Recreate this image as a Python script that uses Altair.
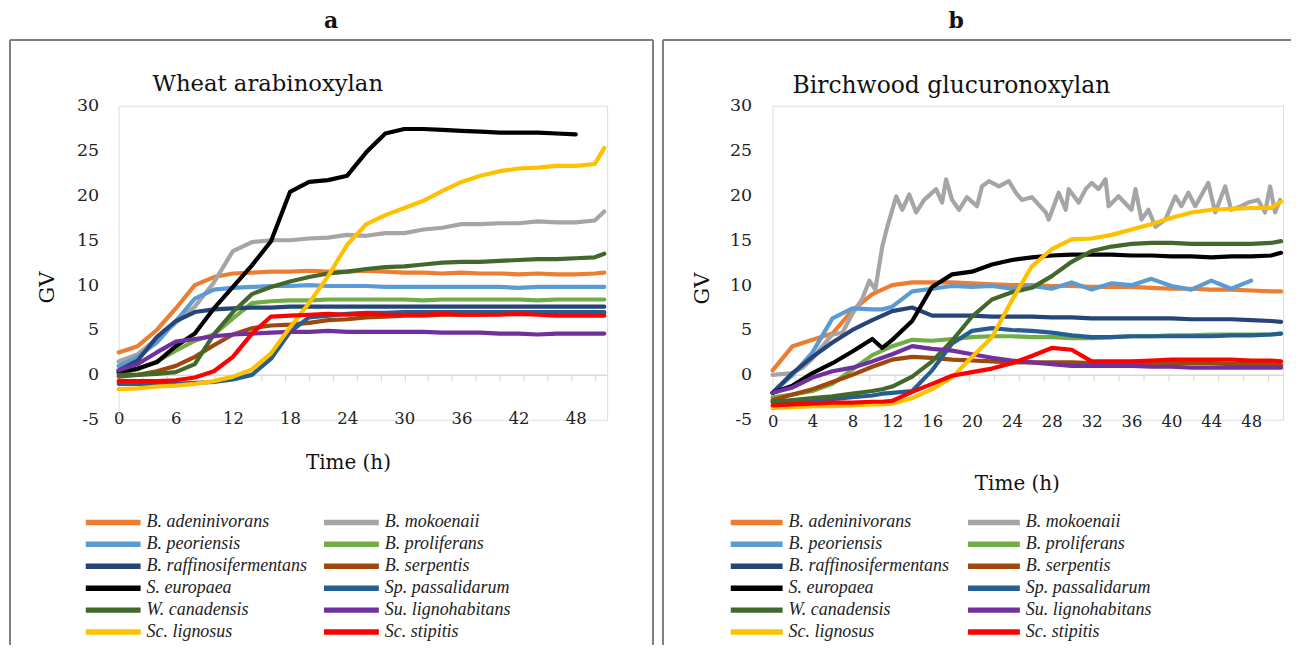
import altair as alt
import pandas as pd

SPECIES = ["B. adeninivorans", "B. mokoenaii", "B. peoriensis", "B. proliferans",
           "B. raffinosifermentans", "B. serpentis", "S. europaea", "Sp. passalidarum",
           "W. canadensis", "Su. lignohabitans", "Sc. lignosus", "Sc. stipitis"]
COLORS = ["#ED7D31", "#A5A5A5", "#5B9BD5", "#70AD47", "#264478", "#9E480E",
          "#000000", "#255E91", "#43682B", "#7030A0", "#FFC000", "#FF0000"]

PANEL_LETTERS = ["a", "b"]
PANEL_TITLES = ["Wheat arabinoxylan", "Birchwood glucuronoxylan"]
X_LABELS_A = [0, 6, 12, 18, 24, 30, 36, 42, 48]
X_LABELS_B = [0, 4, 8, 12, 16, 20, 24, 28, 32, 36, 40, 44, 48]
Y_LABELS = [-5, 0, 5, 10, 15, 20, 25, 30]

# ---------------- panel a : wheat arabinoxylan ----------------
T_A = [0, 2, 4, 6, 8, 10, 12, 14, 16, 18, 20, 22, 24, 26, 28, 30, 32, 34, 36, 38,
       40, 42, 44, 46, 48, 50, 51]
A_ADENINIVORANS = [2.5, 3.2, 5.0, 7.4, 10.0, 10.9, 11.3, 11.4, 11.5, 11.5, 11.6, 11.5, 11.5, 11.6,
                   11.5, 11.4, 11.4, 11.3, 11.4, 11.3, 11.3, 11.2, 11.3, 11.2, 11.2, 11.3, 11.4]
A_MOKOENAII = [1.5, 2.3, 4.0, 5.8, 7.6, 10.3, 13.8, 14.8, 15.0, 15.0, 15.2, 15.3, 15.6, 15.5,
               15.8, 15.8, 16.2, 16.4, 16.8, 16.8, 16.9, 16.9, 17.1, 17.0, 17.0, 17.2, 18.2]
A_PEORIENSIS = [1.0, 2.0, 3.6, 6.0, 8.5, 9.5, 9.7, 9.8, 9.9, 9.9, 10.0, 9.9, 9.9, 9.9,
                9.8, 9.8, 9.8, 9.8, 9.8, 9.8, 9.8, 9.7, 9.8, 9.8, 9.8, 9.8, 9.8]
A_PROLIFERANS = [0.2, 0.6, 1.5, 2.7, 3.8, 4.5, 6.3, 8.0, 8.2, 8.3, 8.3, 8.4, 8.4, 8.4,
                 8.4, 8.4, 8.3, 8.4, 8.4, 8.4, 8.4, 8.4, 8.3, 8.4, 8.4, 8.4, 8.4]
A_RAFFINO = [0.5, 1.6, 4.2, 6.0, 7.0, 7.3, 7.4, 7.5, 7.5, 7.6, 7.6, 7.6, 7.6, 7.6,
             7.6, 7.6, 7.6, 7.6, 7.6, 7.6, 7.6, 7.6, 7.6, 7.6, 7.6, 7.6, 7.6]
A_SERPENTIS = [-0.2, 0.0, 0.4, 1.0, 2.0, 3.3, 4.5, 5.2, 5.5, 5.6, 5.8, 6.1, 6.2, 6.4,
               6.5, 6.6, 6.6, 6.7, 6.7, 6.7, 6.8, 6.8, 6.8, 6.8, 6.8, 6.8, 6.9]
A_EUROPAEA = [0.3, 0.7, 1.4, 3.2, 4.6, 7.4, 9.8, 12.2, 14.9, 20.4, 21.5, 21.7, 22.2, 24.8,
              26.9, 27.4, 27.4, 27.3, 27.2, 27.1, 27.0, 27.0, 27.0, 26.9, 26.8, None, None]
A_PASSALIDARUM = [-1.0, -1.0, -1.0, -1.0, -0.9, -0.8, -0.5, 0.0, 1.8, 4.8, 6.4, 6.6, 6.8, 6.9,
                  6.9, 7.0, 7.0, 7.0, 7.0, 7.0, 7.0, 7.0, 7.0, 7.0, 7.0, 7.0, 7.0]
A_CANADENSIS = [0.0, 0.0, 0.1, 0.3, 1.2, 4.5, 7.0, 9.0, 9.8, 10.4, 10.9, 11.3, 11.5, 11.8,
                12.0, 12.1, 12.3, 12.5, 12.6, 12.6, 12.7, 12.8, 12.9, 12.9, 13.0, 13.1, 13.5]
A_LIGNOHABITANS = [0.5, 1.2, 2.5, 3.7, 4.0, 4.3, 4.5, 4.6, 4.7, 4.8, 4.8, 4.9, 4.8, 4.8,
                   4.8, 4.8, 4.8, 4.7, 4.7, 4.7, 4.6, 4.6, 4.5, 4.6, 4.6, 4.6, 4.6]
A_LIGNOSUS = [-1.6, -1.5, -1.3, -1.2, -1.0, -0.7, -0.2, 0.6, 2.4, 5.3, 8.0, 11.0, 14.5, 16.8,
              17.8, 18.6, 19.4, 20.5, 21.5, 22.2, 22.7, 23.0, 23.1, 23.3, 23.3, 23.5, 25.3]
A_STIPITIS = [-0.7, -0.7, -0.7, -0.6, -0.3, 0.4, 2.0, 4.6, 6.5, 6.6, 6.7, 6.8, 6.7, 6.8,
              6.7, 6.7, 6.7, 6.8, 6.7, 6.7, 6.7, 6.8, 6.7, 6.6, 6.6, 6.6, 6.6]

# ---------------- panel b : birchwood glucuronoxylan ----------------
T_B = [0, 2, 4, 6, 8, 10, 11, 12, 14, 16, 18, 20, 22, 24, 26, 28, 30, 32, 34, 36,
       38, 40, 42, 44, 46, 48, 50, 51]
B_ADENINIVORANS = [0.5, 3.2, 3.9, 4.6, 7.2, 9.0, 9.5, 10.0, 10.3, 10.3, 10.3, 10.2, 10.1, 10.0,
                   10.0, 9.9, 9.9, 9.8, 9.8, 9.8, 9.7, 9.6, 9.6, 9.5, 9.5, 9.4, 9.3, 9.3]
B_PEORIENSIS = [-2.0, 0.0, 2.5, 6.3, 7.4, 7.3, 7.3, 7.6, 9.3, 9.6, 9.9, 9.8, 9.9, 9.6,
                9.9, 9.6, 10.3, 9.5, 10.2, 10.0, 10.7, 9.9, 9.5, 10.5, 9.6, 10.5, None, None]
B_PROLIFERANS = [-2.5, -2.2, -1.8, -1.0, 0.6, 2.2, 2.7, 3.2, 3.9, 3.8, 4.0, 4.2, 4.3, 4.3,
                 4.2, 4.2, 4.1, 4.1, 4.2, 4.3, 4.3, 4.4, 4.4, 4.5, 4.5, 4.5, 4.5, 4.6]
B_RAFFINO = [-2.0, 0.2, 2.0, 3.6, 5.0, 6.1, 6.6, 7.1, 7.5, 6.6, 6.6, 6.6, 6.5, 6.5,
             6.5, 6.4, 6.4, 6.3, 6.3, 6.3, 6.3, 6.3, 6.2, 6.2, 6.2, 6.1, 6.0, 5.9]
B_SERPENTIS = [-2.8, -2.2, -1.6, -0.8, 0.0, 0.9, 1.3, 1.7, 2.0, 1.9, 1.7, 1.6, 1.5, 1.4,
               1.4, 1.4, 1.4, 1.3, 1.3, 1.3, 1.3, 1.3, 1.3, 1.3, 1.2, 1.2, 1.2, 1.1]
B_EUROPAEA = [-2.0, -1.2, 0.2, 1.3, 2.6, 4.0, 3.0, 3.9, 6.0, 9.8, 11.2, 11.5, 12.3, 12.8,
              13.1, 13.3, 13.4, 13.4, 13.4, 13.3, 13.3, 13.2, 13.2, 13.1, 13.2, 13.2, 13.3, 13.6]
B_PASSALIDARUM = [-3.0, -2.9, -2.8, -2.7, -2.5, -2.3, -2.1, -2.0, -1.8, 0.5, 3.5, 4.9, 5.2, 5.0,
                  4.9, 4.7, 4.4, 4.2, 4.2, 4.3, 4.3, 4.3, 4.3, 4.3, 4.4, 4.4, 4.5, 4.6]
B_CANADENSIS = [-3.0, -2.8, -2.6, -2.4, -2.1, -1.8, -1.6, -1.3, -0.2, 1.5, 3.8, 6.5, 8.4, 9.2,
                9.7, 11.0, 12.6, 13.8, 14.3, 14.6, 14.7, 14.7, 14.6, 14.6, 14.6, 14.6, 14.7, 14.9]
B_LIGNOHABITANS = [-2.0, -1.4, -0.3, 0.4, 0.8, 1.5, 1.9, 2.3, 3.2, 2.9, 2.7, 2.3, 1.9, 1.6,
                   1.4, 1.2, 1.0, 1.0, 1.0, 1.0, 0.9, 0.9, 0.8, 0.8, 0.8, 0.8, 0.8, 0.8]
B_LIGNOSUS = [-3.7, -3.6, -3.5, -3.5, -3.4, -3.3, -3.3, -3.2, -2.6, -1.6, -0.3, 2.0, 4.2, 8.3,
              12.1, 14.0, 15.1, 15.2, 15.6, 16.2, 16.8, 17.5, 18.1, 18.4, 18.5, 18.6, 18.6, 19.3]
B_STIPITIS = [-3.4, -3.3, -3.2, -3.1, -3.1, -3.0, -3.0, -2.9, -1.9, -1.0, -0.1, 0.3, 0.7, 1.3,
              2.1, 3.0, 2.8, 1.5, 1.5, 1.5, 1.6, 1.7, 1.7, 1.7, 1.7, 1.6, 1.6, 1.5]
# the noisy B. mokoenaii curve of panel b, read at its own time points
T_B_MOKOENAII = [0, 2, 3, 4, 5, 6, 7, 8, 9, 9.7, 10.3, 11, 11.5, 12.4, 13, 13.7, 14.4, 15.2,
                 16.4, 17, 17.4, 18, 18.7, 19.5, 20.5, 21, 21.7, 22.7, 23.7, 24.4, 25, 26,
                 27.4, 27.7, 28.7, 29.4, 29.7, 30.7, 31.4, 32, 32.7, 33.4, 33.7, 34.7, 36,
                 36.4, 37, 37.7, 38.4, 39.4, 40.4, 41, 41.7, 42.4, 43.7, 44.4, 45.4, 46, 47,
                 47.7, 48.7, 49.4, 49.9, 50.4, 50.9]
B_MOKOENAII = [0.0, 0.2, 0.8, 1.8, 3.2, 4.5, 4.7, 6.8, 8.5, 10.5, 9.5, 14.3, 16.5, 19.9, 18.4,
               20.1, 18.1, 19.5, 20.7, 19.2, 21.8, 19.5, 18.4, 19.8, 18.8, 21.0, 21.6, 21.0,
               21.6, 20.3, 19.5, 19.8, 18.1, 17.3, 20.3, 18.4, 20.7, 19.2, 20.7, 21.4, 20.7,
               21.8, 18.8, 19.9, 18.4, 20.7, 17.3, 18.4, 16.5, 17.3, 19.9, 18.8, 20.3, 18.8,
               21.4, 18.1, 21.0, 18.4, 18.8, 19.2, 19.5, 18.1, 21.0, 18.1, 19.5]

PANEL_A = [(T_A, A_ADENINIVORANS), (T_A, A_MOKOENAII), (T_A, A_PEORIENSIS), (T_A, A_PROLIFERANS),
           (T_A, A_RAFFINO), (T_A, A_SERPENTIS), (T_A, A_EUROPAEA), (T_A, A_PASSALIDARUM),
           (T_A, A_CANADENSIS), (T_A, A_LIGNOHABITANS), (T_A, A_LIGNOSUS), (T_A, A_STIPITIS)]
PANEL_B = [(T_B, B_ADENINIVORANS), (T_B_MOKOENAII, B_MOKOENAII), (T_B, B_PEORIENSIS),
           (T_B, B_PROLIFERANS), (T_B, B_RAFFINO), (T_B, B_SERPENTIS), (T_B, B_EUROPAEA),
           (T_B, B_PASSALIDARUM), (T_B, B_CANADENSIS), (T_B, B_LIGNOHABITANS),
           (T_B, B_LIGNOSUS), (T_B, B_STIPITIS)]


def to_frame(panel):
    rows = []
    for i, (name, (ts, vs)) in enumerate(zip(SPECIES, panel)):
        assert len(ts) == len(vs), name
        for t, v in zip(ts, vs):
            if v is not None:
                rows.append({"species": name, "order": i, "t": t, "v": v})
    return pd.DataFrame(rows)


# legend entries are laid out column by column: left column first, then right column
LEGEND_ORDER = SPECIES[0::2] + SPECIES[1::2]
LEGEND_COLORS = COLORS[0::2] + COLORS[1::2]

SERIF = "DejaVu Serif"
LEGEND_FONT = "Liberation Serif"
FRAME = "#7f7f7f"
AXIS_GREY = "#d9d9d9"
H = 315
HYPHEN_LABEL = "datum.value < 0 ? '-' + abs(datum.value) : datum.label"


def make_panel(idx, df, width, xmax, xlabels, xticks, spec):
    zero_px = H * 30 / 35
    line = alt.Chart(df).mark_line(strokeWidth=4.2, strokeCap="round", strokeJoin="round").encode(
        x=alt.X("t:Q", scale=alt.Scale(domain=[0, xmax], nice=False, zero=False),
                axis=alt.Axis(orient="bottom", values=xlabels, title="Time (h)", domain=False,
                              ticks=False, grid=False, offset=spec["xlab_off"],
                              labelFont=SERIF, labelFontSize=16.5, labelColor="#222",
                              labelPadding=0, labelFlush=False,
                              titleFont=SERIF, titleFontSize=20, titleFontWeight="normal",
                              titleColor="#111", titleX=spec["xt_x"], titleY=spec["xt_y"],
                              titleBaseline="middle", titleAlign="center")),
        y=alt.Y("v:Q", scale=alt.Scale(domain=[-5, 30], nice=False, zero=False),
                axis=alt.Axis(values=Y_LABELS, title="GV", domain=False, ticks=False, grid=False,
                              labelFont=SERIF, labelFontSize=17.5, labelColor="#222",
                              labelPadding=spec["ylab_pad"], labelExpr=HYPHEN_LABEL,
                              titleFont=SERIF, titleFontSize=21, titleFontWeight="normal",
                              titleColor="#111", titleX=spec["yt_x"], titleY=spec["yt_y"],
                              titleAngle=270, titleAlign="center", titleBaseline="middle")),
        color=alt.Color("species:N",
                        scale=alt.Scale(domain=LEGEND_ORDER, range=LEGEND_COLORS),
                        legend=alt.Legend(orient="none", legendX=spec["lg_x"], legendY=spec["lg_y"],
                                          direction="vertical", columns=2, title=None,
                                          symbolType="stroke", symbolSize=spec["sym"] ** 2,
                                          symbolStrokeWidth=5.5, labelFont=LEGEND_FONT,
                                          labelFontStyle="italic", labelFontSize=18,
                                          labelColor="#222", labelOffset=3, labelLimit=400,
                                          columnPadding=spec["colpad"], rowPadding=4,
                                          clipHeight=18)),
        order=alt.Order("order:Q"),
        detail="species:N",
    )
    zero_axis = alt.Chart(df).mark_point(opacity=0).encode(
        x=alt.X("t:Q", axis=alt.Axis(orient="bottom", values=xticks, labels=False, title=None,
                                     grid=False, domain=True, domainColor=AXIS_GREY,
                                     domainWidth=1.5, ticks=True, tickColor=AXIS_GREY,
                                     tickSize=6, tickWidth=1.2, offset=-(H - zero_px))),
    )
    tdf = pd.DataFrame({"title": [PANEL_TITLES[idx]]})
    inner_title = alt.Chart(tdf).mark_text(align="left", baseline="alphabetic", font=SERIF,
                                           fontSize=spec["tt_size"], color="#111").encode(
        x=alt.value(spec["tt_x"]), y=alt.value(spec["tt_y"]), text="title:N")
    frame_layers = []
    for (x1, x2, y1, y2) in spec["frame"]:
        frame_layers.append(
            alt.Chart(tdf).mark_rule(color=FRAME, strokeWidth=2).encode(
                x=alt.value(x1), x2=alt.value(x2), y=alt.value(y1), y2=alt.value(y2)))
    return alt.layer(*frame_layers, inner_title, zero_axis, line).resolve_axis(
        x="independent").properties(
        width=width, height=H,
        title=alt.Title(PANEL_LETTERS[idx], font=SERIF, fontSize=22, fontWeight="bold",
                        color="#111", anchor="middle", offset=6, dx=spec["title_dx"]))


WA, WB = 490, 512
XMAX_A, XMAX_B = 51.3, 51.2
TICKS_A = [2.5 * k for k in range(0, 21)]
TICKS_B = [2.5 * k - 0.3 for k in range(1, 21)]

spec_a = dict(xlab_off=-9, xt_x=230, xt_y=52, ylab_pad=20, yt_x=-71, yt_y=182,
              lg_x=-36, lg_y=409, sym=55, colpad=14, tt_x=34, tt_y=-15, tt_size=22.8,
              title_dx=-32,
              frame=[(-109, -109, -66, 541), (-109, 536, -66, -66), (536, 536, -66, 541)])
spec_b = dict(xlab_off=-6, xt_x=245, xt_y=70, ylab_pad=21, yt_x=-70, yt_y=183,
              lg_x=-45, lg_y=409, sym=52, colpad=16, tt_x=20, tt_y=-13, tt_size=23.5,
              title_dx=-72,
              frame=[(-110, -110, -66, 541), (-110, 520, -66, -66)])

panel_a = make_panel(0, to_frame(PANEL_A), WA, XMAX_A, X_LABELS_A, TICKS_A, spec_a)
panel_b = make_panel(1, to_frame(PANEL_B), WB, XMAX_B, X_LABELS_B, TICKS_B, spec_b)

chart = alt.hconcat(panel_a, panel_b, spacing=6).resolve_scale(
    x="independent", y="independent", color="independent").resolve_legend(
    color="independent").properties(
    padding={"left": 0, "top": 0, "right": 0, "bottom": 0}
).configure_view(stroke=None).configure(background="white")

chart.save("out.html", embed_options={"renderer": "svg", "actions": False})
